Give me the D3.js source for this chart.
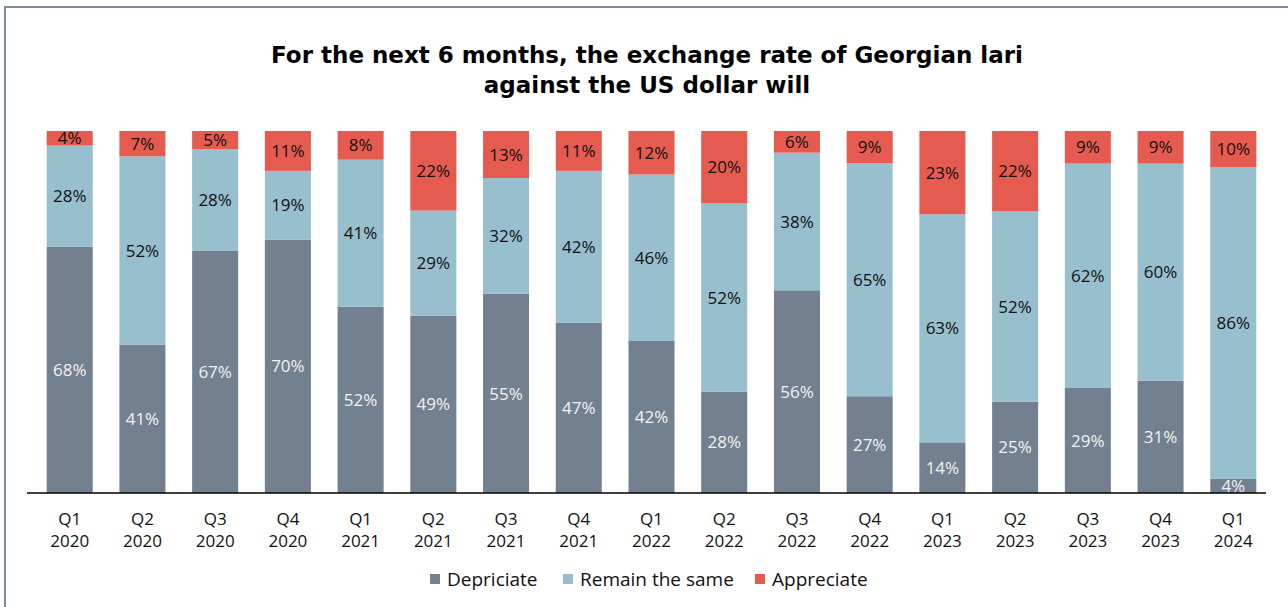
<!DOCTYPE html>
<html>
<head>
<meta charset="utf-8">
<script src="https://cdn.jsdelivr.net/npm/d3@7"></script>
<style>
  body { margin: 0; background: #fff; }
  svg { display: block; }
</style>
</head>
<body>
<div id="chart"></div>
<script>
// chart data
var quarters = ["Q1", "Q2", "Q3", "Q4", "Q1", "Q2", "Q3", "Q4", "Q1", "Q2", "Q3", "Q4", "Q1", "Q2", "Q3", "Q4", "Q1"];
var years = ["2020", "2020", "2020", "2020", "2021", "2021", "2021", "2021", "2022", "2022", "2022", "2022", "2023", "2023", "2023", "2023", "2024"];
var depreciate = [68, 41, 67, 70, 52, 49, 55, 47, 42, 28, 56, 27, 14, 25, 29, 31, 4];
var remainSame = [28, 52, 28, 19, 41, 29, 32, 42, 46, 52, 38, 65, 63, 52, 62, 60, 86];
var appreciate = [4, 7, 5, 11, 8, 22, 13, 11, 12, 20, 6, 9, 23, 22, 9, 9, 10];
var seriesNames = ["Depriciate", "Remain the same", "Appreciate"];
var titleLines = ["For the next 6 months, the exchange rate of Georgian lari", "against the US dollar will"];

var svgWidth = 1288;
var svgHeight = 607;
var colors = ["#738090", "#97bfcd", "#e55b50"];
var labelColors = ["#f2f2f2", "#111", "#111"];

var svg = d3.select("#chart")
  .append("svg")
  .attr("width", svgWidth)
  .attr("height", svgHeight);

// frame
svg.append("rect")
  .attr("x", 5).attr("y", 7)
  .attr("width", svgWidth + 10).attr("height", svgHeight + 10)
  .attr("fill", "none")
  .attr("stroke", "#7f8c99")
  .attr("stroke-width", 2);

// title
svg.append("text")
  .attr("x", 647)
  .attr("y", 63)
  .attr("text-anchor", "middle")
  .style("font-family", "DejaVu Sans")
  .style("font-weight", "bold")
  .style("font-size", "23px")
  .style("fill", "#000")
  .selectAll("tspan")
  .data(titleLines)
  .enter()
  .append("tspan")
  .attr("x", 647)
  .attr("dy", (d, i) => i === 0 ? 0 : 30)
  .text(d => d);

var rows = quarters.map(function(q, i) {
  return { key: i, q: q, y: years[i], s0: depreciate[i], s1: remainSame[i], s2: appreciate[i] };
});

var stack = d3.stack()
  .keys(["s0", "s1", "s2"])
  .offset(d3.stackOffsetExpand);
var layers = stack(rows);

var xScale = d3.scaleBand()
  .domain(rows.map(d => d.key))
  .range([33.6, 1269.4])
  .paddingInner(0.367)
  .paddingOuter(0.18);

var yScale = d3.scaleLinear()
  .domain([0, 1])
  .range([493, 131]);

var groups = svg.selectAll("g.layer")
  .data(layers)
  .enter()
  .append("g")
  .attr("class", "layer")
  .attr("fill", (d, i) => colors[i]);

groups.selectAll("rect")
  .data(d => d)
  .enter()
  .append("rect")
  .attr("x", d => xScale(d.data.key))
  .attr("y", d => yScale(d[1]))
  .attr("width", xScale.bandwidth())
  .attr("height", d => yScale(d[0]) - yScale(d[1]));

// value labels
layers.forEach(function(layer, li) {
  svg.append("g")
    .selectAll("text")
    .data(layer)
    .enter()
    .append("text")
    .attr("x", d => xScale(d.data.key) + xScale.bandwidth() / 2)
    .attr("y", d => (yScale(d[0]) + yScale(d[1])) / 2)
    .attr("dy", "0.36em")
    .attr("text-anchor", "middle")
    .style("font-family", "Open Sans")
    .style("font-size", "17px")
    .style("fill", labelColors[li])
    .text(d => d.data[layer.key] + "%");
});

// x axis
var bottomAxis = d3.axisBottom(xScale).tickSize(0).tickPadding(0).tickFormat("");
var axisG = svg.append("g")
  .attr("transform", "translate(0, 493)")
  .call(bottomAxis);
axisG.select(".domain").remove();
axisG.selectAll(".tick text").remove();
axisG.append("line")
  .attr("x1", 27).attr("x2", 1266)
  .attr("stroke", "#000")
  .attr("stroke-width", 1.5);

var tickG = axisG.selectAll(".tick");
tickG.append("text")
  .attr("y", 26)
  .attr("dy", "0.36em")
  .attr("text-anchor", "middle")
  .style("font-family", "Open Sans")
  .style("font-size", "17px")
  .style("fill", "#111")
  .text(d => rows[d].q);
tickG.append("text")
  .attr("y", 48)
  .attr("dy", "0.36em")
  .attr("text-anchor", "middle")
  .style("font-family", "Open Sans")
  .style("font-size", "17px")
  .style("fill", "#111")
  .text(d => rows[d].y);

// legend
var legendX = [430, 563, 755];
var legend = svg.append("g")
  .selectAll("g")
  .data(seriesNames)
  .enter()
  .append("g")
  .attr("transform", (d, i) => `translate(${legendX[i]}, 579)`);

legend.append("rect")
  .attr("x", 0).attr("y", -5)
  .attr("width", 10).attr("height", 10)
  .attr("fill", (d, i) => colors[i]);

legend.append("text")
  .attr("x", 17)
  .attr("dy", "0.36em")
  .style("font-family", "Open Sans")
  .style("font-size", "19px")
  .style("fill", "#111")
  .text(d => d);
</script>
</body>
</html>
